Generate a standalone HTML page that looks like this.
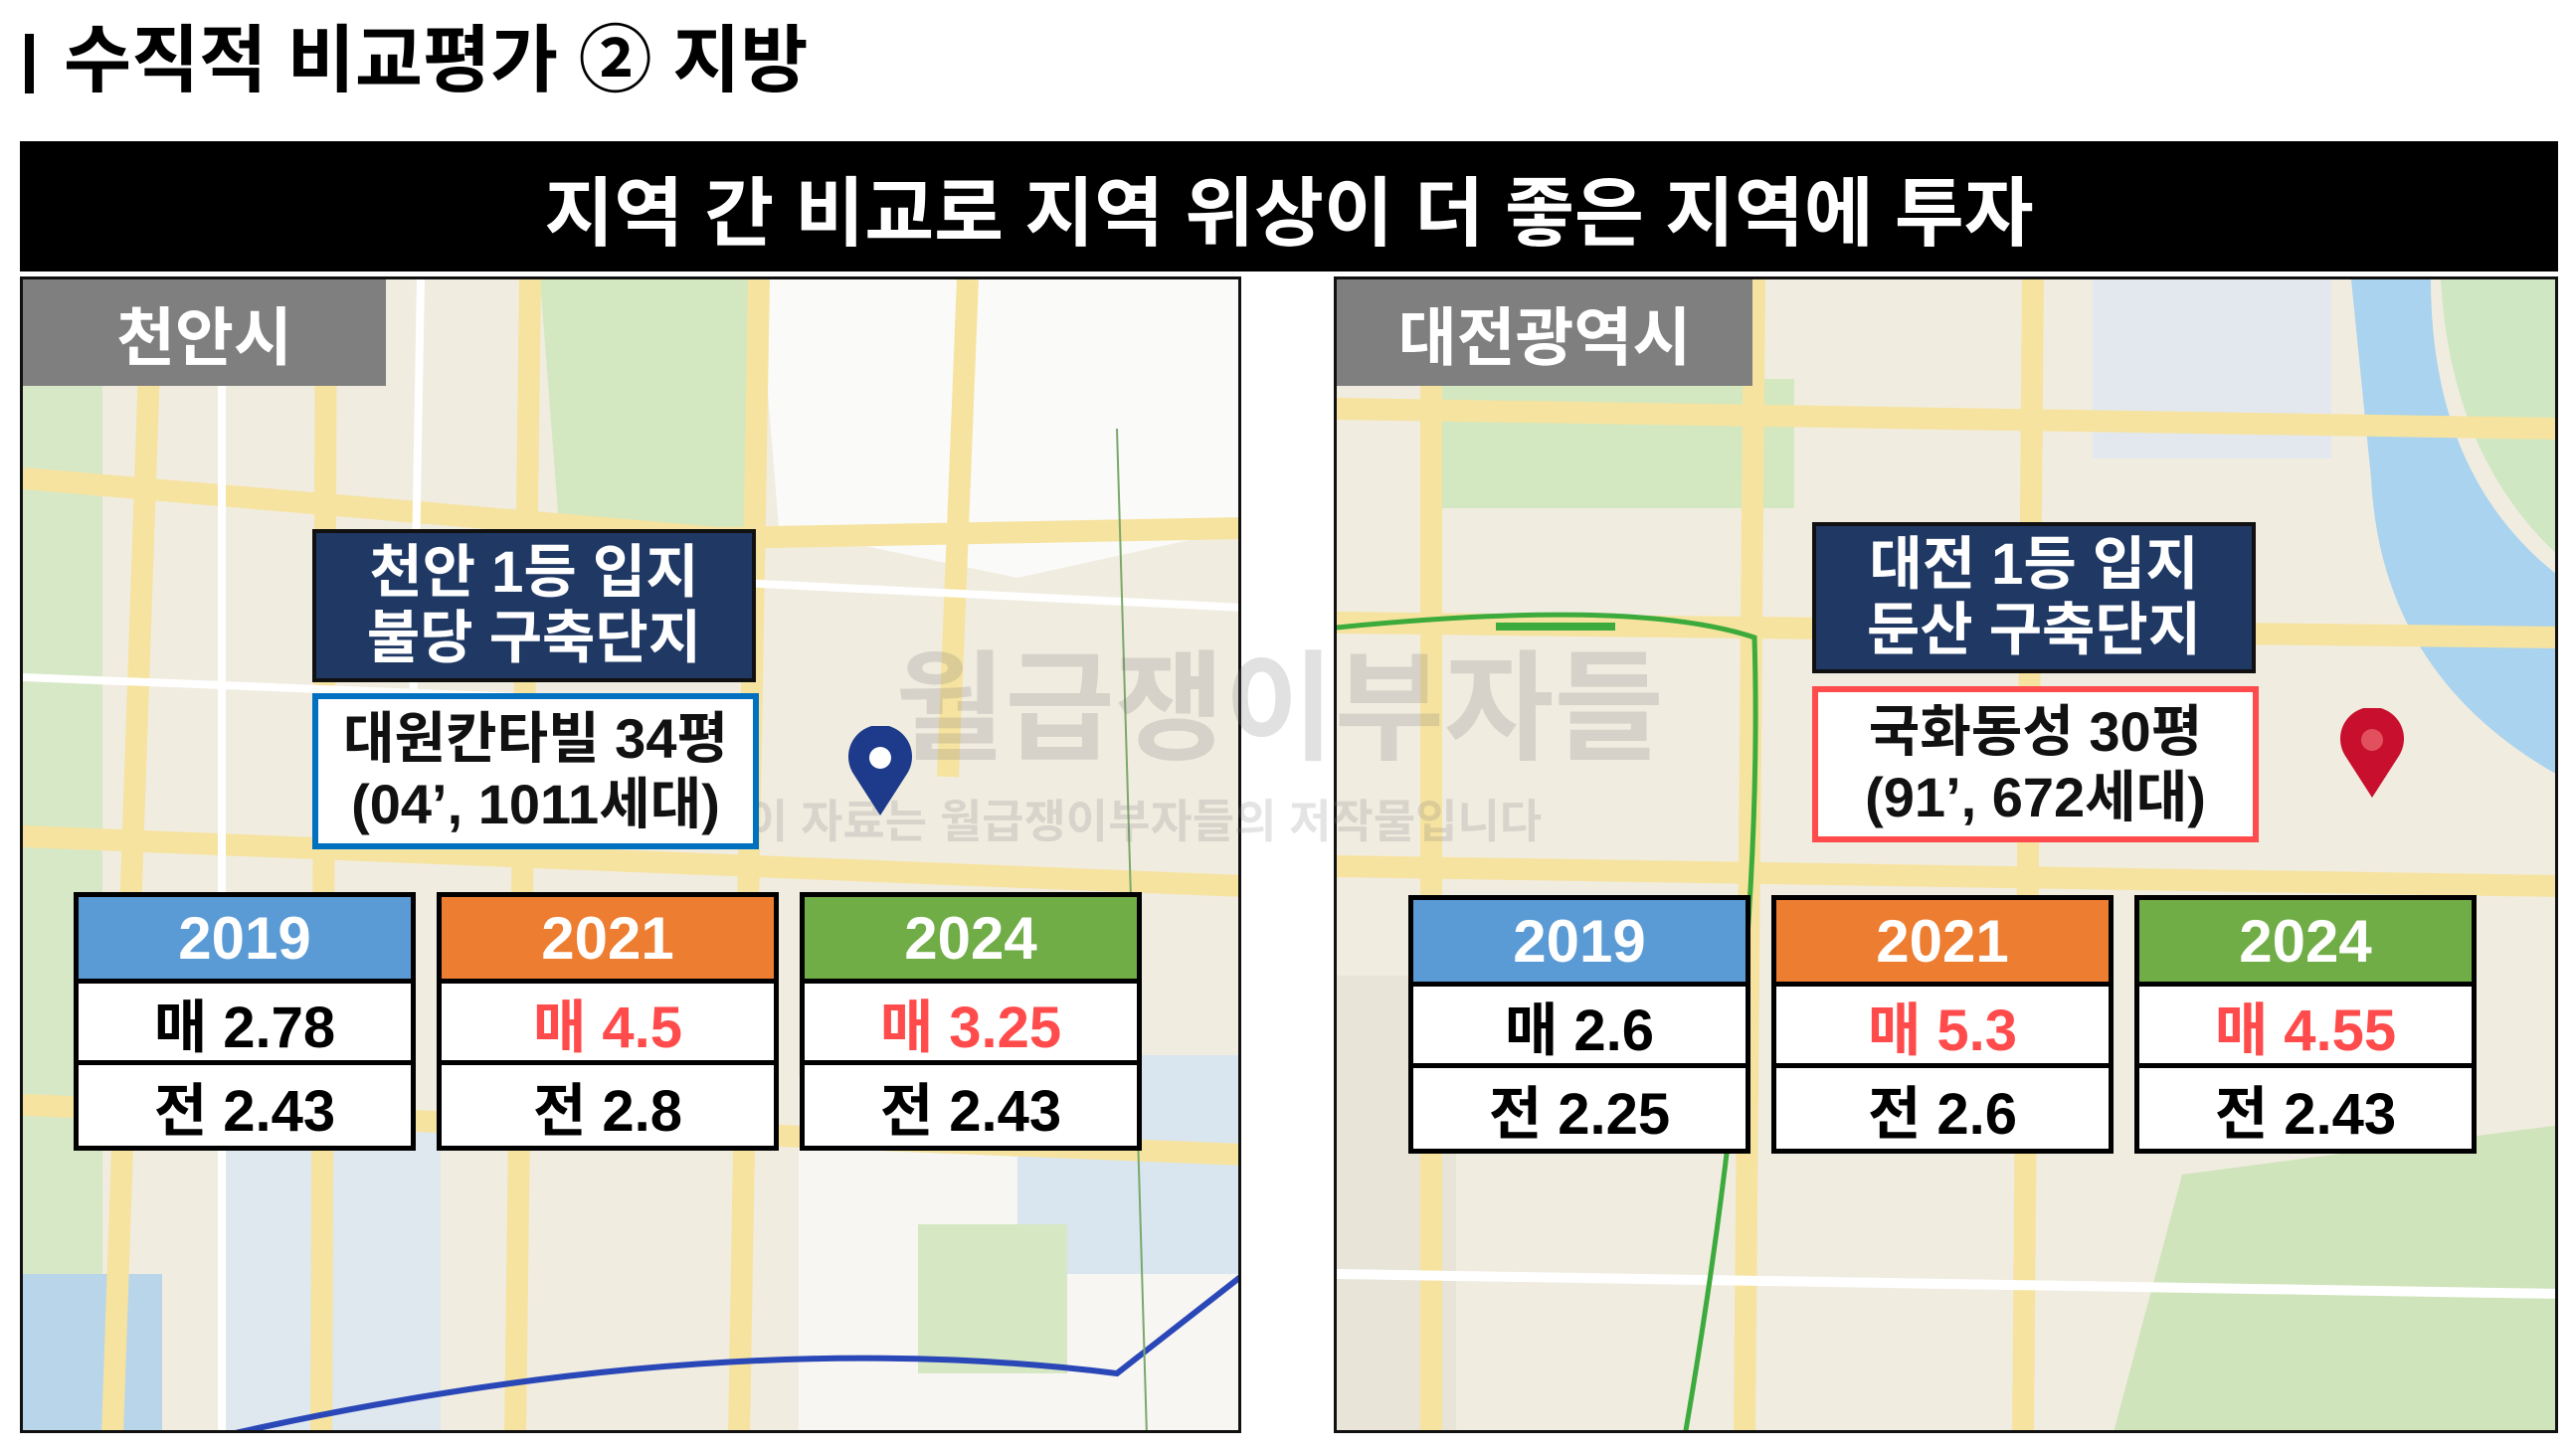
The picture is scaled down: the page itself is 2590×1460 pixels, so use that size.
<!DOCTYPE html>
<html><head><meta charset="utf-8">
<style>
*{margin:0;padding:0;box-sizing:border-box}
body{width:2590px;height:1460px;background:#fff;position:relative;overflow:hidden;font-family:"Liberation Sans","Noto Sans CJK KR",sans-serif;font-weight:bold}
.abs{position:absolute}
.map{position:absolute;top:278px;height:1163px;border:3px solid #111;overflow:hidden;background:#f2eee4}
.lbl{position:absolute;top:0;left:0;height:107px;background:#7f7f7f;color:#fff;font-size:64px;display:flex;align-items:center;justify-content:center}
.navy{position:absolute;background:#1f3864;border:4px solid #111;color:#fff;font-size:58px;line-height:66px;text-align:center;display:flex;flex-direction:column;justify-content:center;z-index:3}
.wbox{position:absolute;background:#fff;color:#111;font-size:56px;line-height:66px;text-align:center;display:flex;flex-direction:column;justify-content:center;z-index:3}
.col{position:absolute;width:344px;height:260px;border:5px solid #000;background:#fff;z-index:3}
.col .h{height:87px;color:#fff;font-size:60px;display:flex;align-items:center;justify-content:center;border-bottom:5px solid #000}
.col .r{height:82px;font-size:58px;display:flex;align-items:center;justify-content:center;color:#000}
.col .r1{border-bottom:5px solid #000}
.red{color:#ff4b4b!important}
</style></head><body>
<div class="abs" style="left:25px;top:34px;width:9px;height:60px;background:#000"></div>
<div class="abs" style="left:64px;top:16px;font-size:74px;line-height:90px;color:#000">수직적 비교평가 ② 지방</div>
<div class="abs" style="left:20px;top:142px;width:2552px;height:131px;background:#000;color:#fff;font-size:76px;display:flex;align-items:center;justify-content:center">지역 간 비교로 지역 위상이 더 좋은 지역에 투자</div>

<!-- LEFT MAP -->
<div class="map" style="left:20px;width:1228px">
<svg width="1228" height="1163" style="position:absolute;left:0;top:0">
<rect x="0" y="0" width="1228" height="1163" fill="#f1ece0"/>
<rect x="0" y="100" width="80" height="1063" fill="#d7e8c6"/>
<path d="M520 0 L740 0 L740 260 L540 260 Z" fill="#d3e7c0"/>
<path d="M740 0 L1228 0 L1228 250 L1000 300 L760 250 Z" fill="#fafaf8"/>
<path d="M780 800 L1228 820 L1228 1163 L780 1163 Z" fill="#f7f6f2"/>
<path d="M200 850 L420 850 L420 1163 L200 1163 Z" fill="#dfe7ef"/>
<path d="M0 1000 L140 1000 L140 1163 L0 1163 Z" fill="#b9d5ea"/>
<path d="M1000 780 L1228 780 L1228 1000 L1000 1000 Z" fill="#d9e6f0"/>
<path d="M900 950 L1050 950 L1050 1100 L900 1100 Z" fill="#d5e8c3"/>
<g stroke="#f6e3a0" stroke-width="22" fill="none">
<path d="M130 0 L90 1163"/><path d="M305 0 L300 1163"/><path d="M510 0 L495 1163"/>
<path d="M740 0 L720 1163"/><path d="M950 0 L930 500"/>
<path d="M0 560 L1228 610"/><path d="M0 200 L700 260 L1228 250"/>
<path d="M0 830 L1228 880"/>
</g>
<g stroke="#ffffff" stroke-width="8" fill="none">
<path d="M200 0 L200 1163"/><path d="M620 300 L1228 330"/><path d="M0 400 L500 420"/><path d="M400 0 L390 560"/>
</g>
<path d="M200 1163 Q700 1050 1100 1100 L1228 1000" stroke="#2a47b8" stroke-width="6" fill="none"/>
<path d="M1100 150 L1130 1163" stroke="#7aa86a" stroke-width="2" fill="none"/>
</svg>
<div class="lbl" style="width:365px">천안시</div>
</div>

<!-- RIGHT MAP -->
<div class="map" style="left:1341px;width:1231px">
<svg width="1231" height="1163" style="position:absolute;left:0;top:0">
<rect x="0" y="0" width="1231" height="1163" fill="#f1ece0"/>
<path d="M100 100 L460 100 L460 230 L100 230 Z" fill="#d3e7c0"/>
<path d="M760 0 L1000 0 L1000 180 L760 180 Z" fill="#e3e8ee"/>
<path d="M780 1163 L850 900 L1231 850 L1231 1163 Z" fill="#cfe4bb"/>
<path d="M0 700 L120 700 L120 1163 L0 1163 Z" fill="#e8e4d8"/>
<path d="M1020 0 L1100 0 Q1100 200 1231 300 L1231 500 Q1050 400 1040 200 Z" fill="#a9d3ee"/>
<path d="M1110 0 L1231 0 L1231 280 Q1120 180 1110 0 Z" fill="#cfe7c3"/>
<g stroke="#f6e3a0" stroke-width="22" fill="none">
<path d="M0 345 L1231 360"/><path d="M0 590 L1231 610"/><path d="M95 0 L95 1163"/>
<path d="M420 0 L410 1163"/><path d="M700 0 L690 1163"/><path d="M0 130 L1231 150"/>
</g>
<path d="M0 1000 L1231 1020" stroke="#ffffff" stroke-width="10"/>
<path d="M0 350 Q300 320 420 360 Q430 700 350 1163" stroke="#3caa3c" stroke-width="5" fill="none"/>
<rect x="160" y="345" width="120" height="8" fill="#3caa3c"/>
</svg>
<div class="lbl" style="width:418px">대전광역시</div>
</div>

<div class="abs" style="left:900px;top:615px;font-size:120px;color:rgba(120,120,120,0.22);z-index:2;white-space:nowrap">월급쟁이부자들</div>
<div class="abs" style="left:750px;top:790px;font-size:46px;color:rgba(120,120,120,0.2);z-index:2;white-space:nowrap">이 자료는 월급쟁이부자들의 저작물입니다</div>

<div class="navy" style="left:314px;top:532px;width:446px;height:154px"><div>천안 1등 입지</div><div>불당 구축단지</div></div>
<div class="wbox" style="left:314px;top:697px;width:449px;height:157px;border:6px solid #0070c0"><div>대원칸타빌 34평</div><div>(04’, 1011세대)</div></div>
<svg class="abs" style="left:850px;top:730px;z-index:3" width="70" height="92"><path d="M35 90 L8 48 A32 32 0 1 1 62 48 Z" fill="#1e3a8a"/><circle cx="35" cy="32" r="11" fill="#fff"/></svg>

<div class="col" style="left:74px;top:897px"><div class="h" style="background:#5b9bd5">2019</div><div class="r r1">매 2.78</div><div class="r">전 2.43</div></div>
<div class="col" style="left:439px;top:897px"><div class="h" style="background:#ed7d31">2021</div><div class="r r1 red">매 4.5</div><div class="r">전 2.8</div></div>
<div class="col" style="left:804px;top:897px"><div class="h" style="background:#70ad47">2024</div><div class="r r1 red">매 3.25</div><div class="r">전 2.43</div></div>

<div class="navy" style="left:1822px;top:525px;width:446px;height:152px"><div>대전 1등 입지</div><div>둔산 구축단지</div></div>
<div class="wbox" style="left:1822px;top:690px;width:449px;height:157px;border:6px solid #ff4b4b"><div>국화동성 30평</div><div>(91’, 672세대)</div></div>
<svg class="abs" style="left:2350px;top:712px;z-index:3" width="70" height="92"><path d="M35 90 L8 48 A32 32 0 1 1 62 48 Z" fill="#c8102e"/><circle cx="35" cy="32" r="11" fill="#e2505e"/></svg>

<div class="col" style="left:1416px;top:900px"><div class="h" style="background:#5b9bd5">2019</div><div class="r r1">매 2.6</div><div class="r">전 2.25</div></div>
<div class="col" style="left:1781px;top:900px"><div class="h" style="background:#ed7d31">2021</div><div class="r r1 red">매 5.3</div><div class="r">전 2.6</div></div>
<div class="col" style="left:2146px;top:900px"><div class="h" style="background:#70ad47">2024</div><div class="r r1 red">매 4.55</div><div class="r">전 2.43</div></div>
</body></html>
